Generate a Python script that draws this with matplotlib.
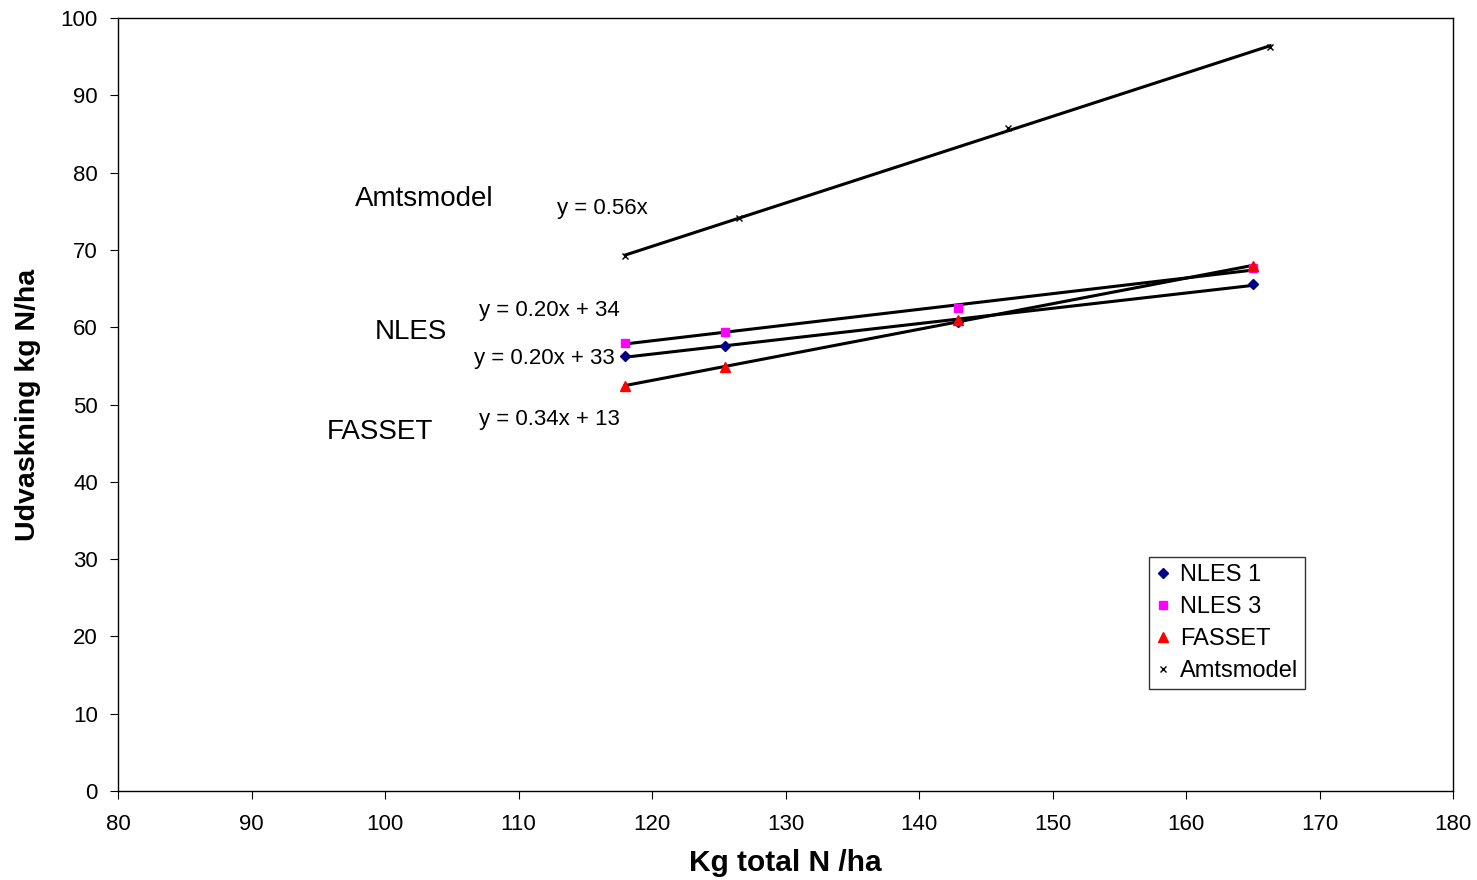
import matplotlib.pyplot as plt
import numpy as np

plt.rcParams['font.family'] = ['Liberation Sans', 'DejaVu Sans']

# N input (kg total N/ha) and leaching (kg N/ha) per model
x_nles = [118, 125.5, 142.9, 165]
nles1 = [56.3, 57.6, 60.7, 65.6]
nles3 = [58.0, 59.4, 62.5, 67.6]
x_fasset = [118, 125.5, 142.9, 165]
fasset = [52.4, 54.9, 60.9, 67.9]
x_amt = [118, 126.5, 146.7, 166.3]
amtsmodel = [69.2, 74.1, 85.8, 96.2]

fig = plt.figure(figsize=(14.77, 8.8), dpi=100)
ax = fig.add_axes([0.0799, 0.1011, 0.9039, 0.8784])

series = [
    (x_nles, nles1, 'NLES 1', dict(marker='D', color='#000080', ms=5)),
    (x_nles, nles3, 'NLES 3', dict(marker='s', color='#ff00ff', ms=6)),
    (x_fasset, fasset, 'FASSET', dict(marker='^', color='#ff0000', ms=7)),
    (x_amt, amtsmodel, 'Amtsmodel', dict(marker='x', color='black', ms=5, mew=1)),
]

for xs, ys, name, style in series:
    xs = np.array(xs)
    k, m = np.polyfit(xs, ys, 1)
    ax.plot(xs[[0, -1]], k * xs[[0, -1]] + m, color='black', lw=2.2, zorder=2)
    ax.plot(xs, ys, ls='none', label=name, zorder=3, **style)

ax.set_xlim(80, 180)
ax.set_ylim(0, 100)
ax.set_xticks(np.arange(80, 181, 10))
ax.set_yticks(np.arange(0, 101, 10))
ax.tick_params(direction='out', length=6, labelsize=16)
ax.tick_params(axis='x', pad=10.5)
ax.tick_params(axis='y', pad=8.5)
for s in ax.spines.values():
    s.set_linewidth(1)

ax.set_xlabel('Kg total N /ha', fontsize=21.5, fontweight='bold', labelpad=10)
ax.set_ylabel('Udvaskning kg N/ha', fontsize=20.5, fontweight='bold', labelpad=14)

# model names and trendline equations
labels = [
    (97.75, 76.6, 'Amtsmodel', 20),
    (99.25, 59.4, 'NLES', 20),
    (95.66, 46.4, 'FASSET', 20),
    (112.9, 75.3, 'y = 0.56x', 16),
    (107.04, 62.2, 'y = 0.20x + 34', 16),
    (106.67, 56.0, 'y = 0.20x + 33', 16),
    (107.04, 48.0, 'y = 0.34x + 13', 16),
]
for x, y, t, fs in labels:
    ax.text(x, y, t, fontsize=fs, va='center')

leg = ax.legend(loc='upper left', bbox_to_anchor=(0.7723, 0.3027), fontsize=17,
                frameon=True, fancybox=False, edgecolor='black', handlelength=0.6,
                handletextpad=0.4, borderpad=0.3, labelspacing=0.42, borderaxespad=0)
leg.get_frame().set_linewidth(1)

fig.savefig('out.png', dpi=100)
